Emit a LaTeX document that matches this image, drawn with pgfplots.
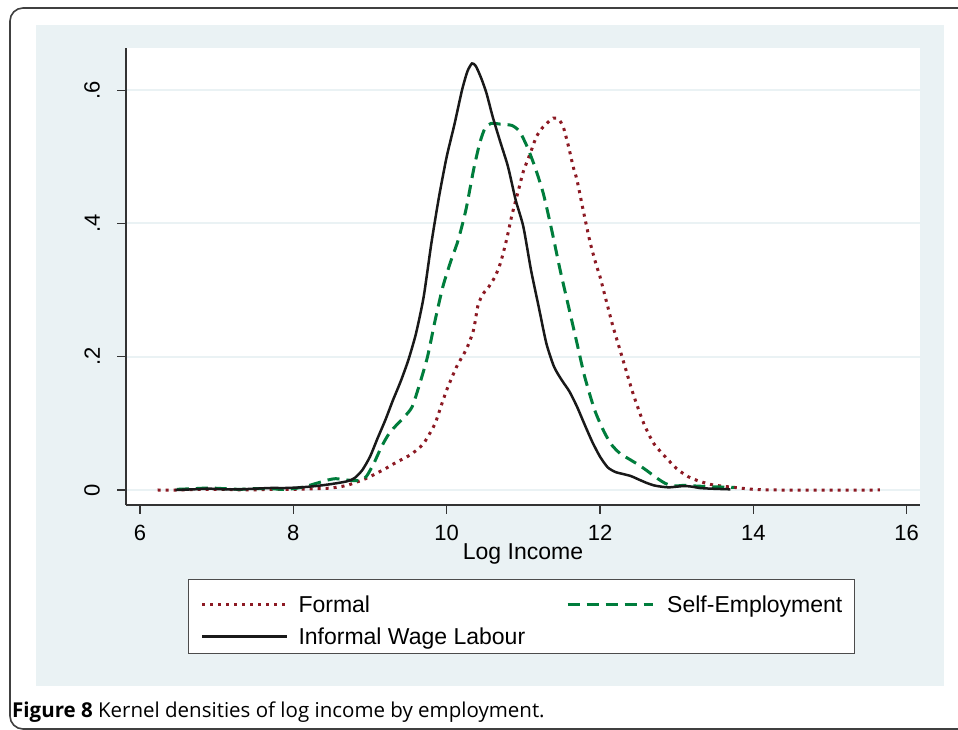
\documentclass[border=0pt]{standalone}
\usepackage{pgfplots}
\pgfplotsset{compat=1.18}
\usepackage{fontspec}
\setmainfont{Liberation Sans}
\newfontfamily\capfont{Open Sans}
\definecolor{bgc}{RGB}{234,242,244}
\definecolor{gridc}{RGB}{234,242,244}
\definecolor{formalred}{RGB}{140,25,35}
\definecolor{seg}{RGB}{0,125,60}

\pgfplotstableread{
x y
6.23 0.000
6.5 0.000
6.8 0.001
7.1 0.001
7.4 0.000
7.7 0.001
8.0 0.001
8.3 0.002
8.5 0.003
8.7 0.007
8.9 0.015
9.0 0.020
9.2 0.032
9.35 0.042
9.5 0.051
9.61 0.060
9.7 0.070
9.78 0.085
9.85 0.100
9.91 0.120
10.0 0.150
10.13 0.185
10.26 0.212
10.35 0.240
10.41 0.278
10.48 0.295
10.55 0.305
10.63 0.320
10.70 0.340
10.78 0.375
10.85 0.412
10.93 0.447
11.0 0.478
11.09 0.505
11.17 0.530
11.26 0.545
11.39 0.558
11.46 0.556
11.52 0.545
11.59 0.515
11.65 0.485
11.70 0.465
11.78 0.420
11.87 0.372
11.95 0.338
12.0 0.320
12.09 0.280
12.17 0.245
12.30 0.195
12.43 0.145
12.57 0.100
12.7 0.070
12.85 0.050
13.0 0.032
13.15 0.020
13.3 0.013
13.48 0.0075
13.74 0.004
14.0 0.001
14.3 0.000
15.65 0.000
}\formal

\pgfplotstableread{
x y
6.48 0.001
6.7 0.002
6.9 0.003
7.1 0.002
7.3 0.001
7.5 0.002
7.7 0.002
7.85 0.001
8.0 0.002
8.15 0.005
8.3 0.010
8.45 0.015
8.55 0.017
8.7 0.015
8.85 0.014
8.95 0.020
9.05 0.040
9.15 0.065
9.25 0.085
9.35 0.098
9.45 0.110
9.55 0.125
9.65 0.160
9.75 0.200
9.85 0.255
9.95 0.305
10.05 0.342
10.15 0.375
10.25 0.420
10.35 0.480
10.43 0.520
10.5 0.543
10.58 0.550
10.7 0.549
10.85 0.547
10.95 0.538
11.05 0.515
11.15 0.485
11.26 0.445
11.37 0.390
11.48 0.330
11.59 0.275
11.70 0.220
11.80 0.170
11.93 0.120
12.05 0.088
12.15 0.068
12.26 0.055
12.4 0.045
12.5 0.038
12.6 0.030
12.74 0.018
12.85 0.010
12.96 0.006
13.1 0.007
13.25 0.006
13.43 0.005
13.75 0.004
}\selfemp

\pgfplotstableread{
x y
6.46 0.000
6.7 0.001
6.9 0.002
7.1 0.001
7.3 0.001
7.5 0.002
7.7 0.003
7.9 0.003
8.1 0.004
8.3 0.006
8.5 0.009
8.7 0.013
8.8 0.018
8.9 0.030
9.0 0.050
9.1 0.078
9.2 0.105
9.3 0.135
9.4 0.163
9.5 0.195
9.6 0.235
9.7 0.290
9.8 0.370
9.9 0.440
10.0 0.500
10.1 0.548
10.2 0.600
10.27 0.628
10.33 0.640
10.38 0.636
10.45 0.618
10.52 0.595
10.6 0.560
10.7 0.522
10.8 0.485
10.9 0.435
11.0 0.395
11.1 0.330
11.2 0.275
11.3 0.220
11.4 0.185
11.5 0.165
11.6 0.148
11.7 0.125
11.8 0.098
11.9 0.072
12.0 0.050
12.1 0.034
12.2 0.027
12.3 0.024
12.4 0.021
12.5 0.016
12.6 0.011
12.7 0.007
12.8 0.005
12.9 0.004
13.0 0.005
13.1 0.006
13.2 0.005
13.3 0.003
13.45 0.002
13.7 0.001
}\informal

\begin{document}
\begin{tikzpicture}[x=1bp,y=1bp]
\path[use as bounding box] (0,0) rectangle (958,730);
\clip (0,0) rectangle (958,730);
\fill[white] (0,0) rectangle (958,730);
\draw[line width=1.6bp, black!75, rounded corners=13bp] (10,1) rectangle (990,722);
\fill[bgc] (36,44) rectangle (944,705);
\node[anchor=base west, inner sep=0pt, font=\capfont\fontsize{20.5bp}{22bp}\selectfont] at (12,12) {\textbf{Figure 8} Kernel densities of log income by employment.};
\begin{axis}[
  at={(126bp,225bp)}, anchor=south west,
  scale only axis, width=794bp, height=457bp,
  xmin=5.817, xmax=16.174, ymin=-0.0225, ymax=0.6632,
  axis background/.style={fill=white},
  axis x line*=bottom, axis y line*=left,
  axis line style={line width=1.2bp, black!80, -},
  tick style={line width=1.2bp, black!80},
  tick align=outside, major tick length=9bp,
  xtick={6,8,10,12,14,16}, xticklabels={6,8,10,12,14,16},
  ytick={0,0.2,0.4,0.6}, yticklabels={0,.2,.4,.6},
  ymajorgrids, major grid style={line width=2bp, gridc},
  tick label style={font=\fontsize{22bp}{24bp}\selectfont, inner sep=0pt},
  xticklabel style={anchor=north},
  yticklabel style={rotate=90, anchor=south},
  xticklabel shift=11bp,
  yticklabel shift=17bp,
  /pgf/number format/assume math mode=true,
  xlabel={Log Income},
  xlabel style={at={(axis description cs:0.5,-0.1182)}, anchor=base, inner sep=0pt, font=\fontsize{23bp}{25bp}\selectfont},
  legend columns=2,
  legend style={at={(axis description cs:0.0781,-0.1619)}, anchor=north west,
    draw=black!70, line width=1bp, fill=white,
    inner xsep=12bp, inner ysep=4bp, row sep=-2bp,
    font=\fontsize{23bp}{25bp}\selectfont,
    nodes={inner sep=0pt, text height=29bp, text depth=5bp},
    cells={anchor=base west},
    /tikz/column 1/.style={column sep=10bp},
    /tikz/column 2/.style={column sep=41bp},
    /tikz/column 3/.style={column sep=13bp}},
  legend image code/.code={\draw[#1] (0bp,8bp) -- (85bp,8bp);},
]
\addplot[formalred, line width=3bp, dash pattern=on 3bp off 5bp, smooth, tension=0.4] table {\formal};
\addlegendentry{Formal}
\addplot[seg, line width=3bp, dash pattern=on 12bp off 7bp, smooth, tension=0.4] table {\selfemp};
\addlegendentry{Self-Employment}
\addplot[black!90, line width=2.5bp, smooth, tension=0.4] table {\informal};
\addlegendentry{Informal Wage Labour}
\end{axis}
\end{tikzpicture}
\end{document}
